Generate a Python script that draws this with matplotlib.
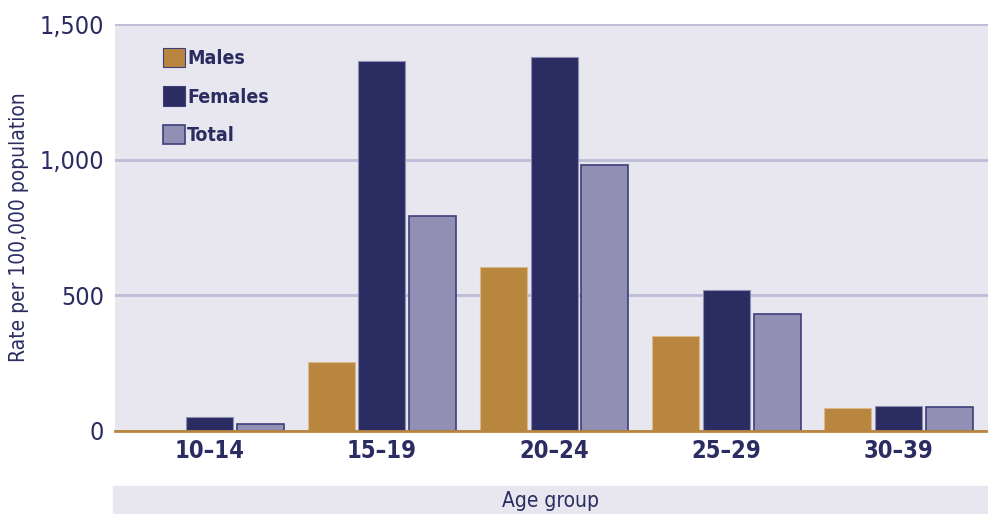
import matplotlib.pyplot as plt
from matplotlib.patches import Rectangle
import numpy as np

plt.rcParams['font.family'] = ['DejaVu Sans']
plt.rcParams['font.stretch'] = 'condensed'

age_groups = ['10–14', '15–19', '20–24', '25–29', '30–39']
males = [0, 254, 604, 350, 85]
females = [52, 1364, 1378, 520, 92]
total = [26, 792, 980, 431, 88]

navy = '#2b2d62'
c_males = '#b8863e'
c_females = '#2b2d62'
c_total = '#9190b4'

fig = plt.figure(figsize=(9.88, 5.14), dpi=100)
ax = fig.add_axes([115 / 988, 83 / 514, 873 / 988, 407 / 514])
ax.set_facecolor('#e8e7ef')

x = np.arange(len(age_groups))
w = 0.273
step = 0.295
ax.bar(x - step, males, w, color=c_males, edgecolor='#d9b88a', linewidth=0.8, label='Males', zorder=3)
ax.bar(x, females, w, color=c_females, edgecolor='#8e8fb5', linewidth=0.8, label='Females', zorder=3)
ax.bar(x + step, total, w, color=c_total, edgecolor='#3e3f7a', linewidth=1.2, label='Total', zorder=3)

ax.set_xlim(-0.55, 4.52)
ax.set_ylim(0, 1500)
ax.set_yticks([0, 500, 1000, 1500])
ax.set_yticklabels(['0', '500', '1,000', '1,500'])
ax.yaxis.grid(True, color='#bcbcd6', linewidth=2, zorder=0)
ax.axhline(0, color=c_males, linewidth=2, zorder=4, clip_on=False)

for s in ax.spines.values():
    s.set_visible(False)
ax.tick_params(axis='both', length=0)
ax.tick_params(axis='y', labelsize=18, labelcolor=navy, pad=8)
ax.set_xticks(x)
ax.set_xticklabels(age_groups, fontsize=17, fontweight='bold', color=navy)
ax.tick_params(axis='x', pad=6)

ax.set_ylabel('Rate per 100,000 population', fontsize=15, color=navy)
ax.yaxis.set_label_coords(-0.098, 0.5)

leg = ax.legend(loc='upper left', bbox_to_anchor=(0.035, 0.985), frameon=False,
                handlelength=1.15, handleheight=1.15, handletextpad=0.1,
                labelspacing=0.95, prop={'size': 14, 'weight': 'bold', 'stretch': 'condensed'})
for t in leg.get_texts():
    t.set_color(navy)
for h in leg.legend_handles:
    h.set_edgecolor('#3e3f7a')

fig.patches.append(Rectangle((113 / 988, 0), 875 / 988, 28 / 514,
                             transform=fig.transFigure, color='#e8e7ef', zorder=0))
fig.text((113 + 988) / 2 / 988, 13 / 514, 'Age group', ha='center', va='center',
         fontsize=15, color=navy)

fig.savefig('out.png', dpi=100)
